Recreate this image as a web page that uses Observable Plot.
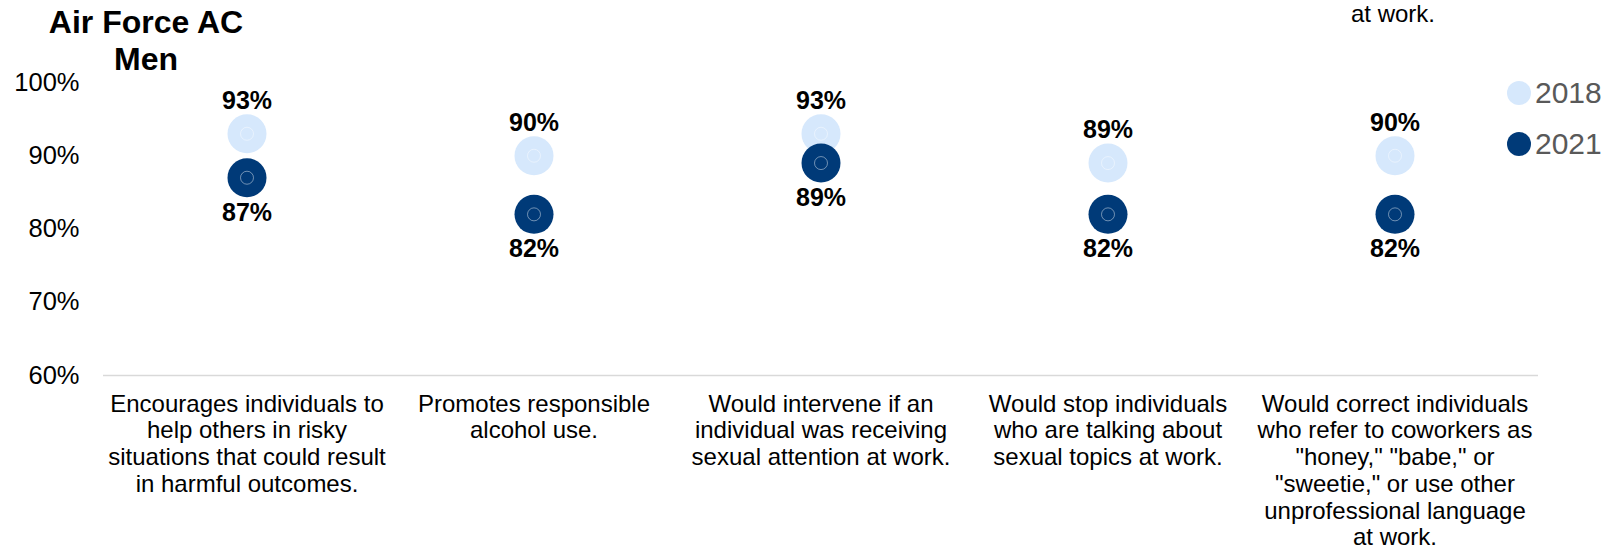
<!DOCTYPE html>
<html>
<head>
<meta charset="utf-8">
<script src="https://cdn.jsdelivr.net/npm/d3@7"></script>
<script src="https://cdn.jsdelivr.net/npm/@observablehq/plot@0.6"></script>
<style>
  html, body { margin: 0; padding: 0; background: #fff; }
  body { width: 1615px; height: 551px; overflow: hidden; position: relative; font-family: Arial, "Liberation Sans", sans-serif; }
  #chart { position: absolute; left: 0; top: 0; }
  .title { position: absolute; left: 46px; top: 4px; width: 200px; text-align: center; font-weight: bold; font-size: 32px; line-height: 37px; color: #000; }
  .legend { position: absolute; left: 1507px; top: 67px; font-size: 30px; color: #595959; }
  .legend .item { display: flex; align-items: center; height: 51px; }
  .legend .sw { width: 24px; height: 24px; border-radius: 50%; margin-right: 4px; }
  .overflow { position: absolute; left: 1293px; top: 0px; width: 200px; text-align: center; font-size: 24px; color: #000; }
</style>
</head>
<body>
<div id="chart"></div>
<div class="title">Air Force AC<br>Men</div>
<div class="overflow">at work.</div>
<div class="legend" id="legend"></div>
<script>
const categories = [
  "Encourages individuals to\nhelp others in risky\nsituations that could result\nin harmful outcomes.",
  "Promotes responsible\nalcohol use.",
  "Would intervene if an\nindividual was receiving\nsexual attention at work.",
  "Would stop individuals\nwho are talking about\nsexual topics at work.",
  "Would correct individuals\nwho refer to coworkers as\n\"honey,\" \"babe,\" or\n\"sweetie,\" or use other\nunprofessional language\nat work."
];
const years = ["2018", "2021"];
const values2018 = [93, 90, 93, 89, 90];
const values2021 = [87, 82, 89, 82, 82];
const yTicks = [60, 70, 80, 90, 100];
const colors = {"2018": "#d6e8fc", "2021": "#003a78"};

const data = [];
categories.forEach((c, i) => {
  data.push({cat: c, year: "2018", value: values2018[i]});
  data.push({cat: c, year: "2021", value: values2021[i]});
});
const d18 = data.filter(d => d.year === "2018");
const d21 = data.filter(d => d.year === "2021");

const chart = Plot.plot({
  width: 1615,
  height: 551,
  marginLeft: 103,
  marginRight: 77,
  marginTop: 82,
  marginBottom: 176,
  style: {fontFamily: "Arial, 'Liberation Sans', sans-serif", color: "#000", background: "#fff"},
  x: {type: "band", domain: categories, padding: 0},
  y: {domain: [60, 100]},
  marks: [
    Plot.ruleY([60], {stroke: "#d9d9d9", strokeWidth: 1.5}),
    Plot.axisY({ticks: yTicks, tickFormat: d => d + "%", tickSize: 0, tickPadding: 24, fontSize: 25.5, label: null, fill: "#000"}),
    Plot.axisX({tickSize: 0, tickPadding: 17, fontSize: 24, lineHeight: 1.115, label: null, fill: "#000"}),
    Plot.dot(data, {x: "cat", y: "value", r: 19.5, fill: d => colors[d.year], stroke: null}),
    Plot.dot(data, {x: "cat", y: "value", r: 6.5, fill: "none", stroke: "#fff", strokeOpacity: 0.55, strokeWidth: 0.8}),
    Plot.text(d18, {x: "cat", y: "value", text: d => d.value + "%", dy: -33, fontSize: 25, fontWeight: "bold", fill: "#000"}),
    Plot.text(d21, {x: "cat", y: "value", text: d => d.value + "%", dy: 35, fontSize: 25, fontWeight: "bold", fill: "#000"})
  ]
});
document.getElementById("chart").appendChild(chart);

const legend = document.getElementById("legend");
years.forEach(y => {
  const item = document.createElement("div");
  item.className = "item";
  const sw = document.createElement("div");
  sw.className = "sw";
  sw.style.background = colors[y];
  const t = document.createElement("span");
  t.textContent = y;
  item.appendChild(sw);
  item.appendChild(t);
  legend.appendChild(item);
});
</script>
</body>
</html>
